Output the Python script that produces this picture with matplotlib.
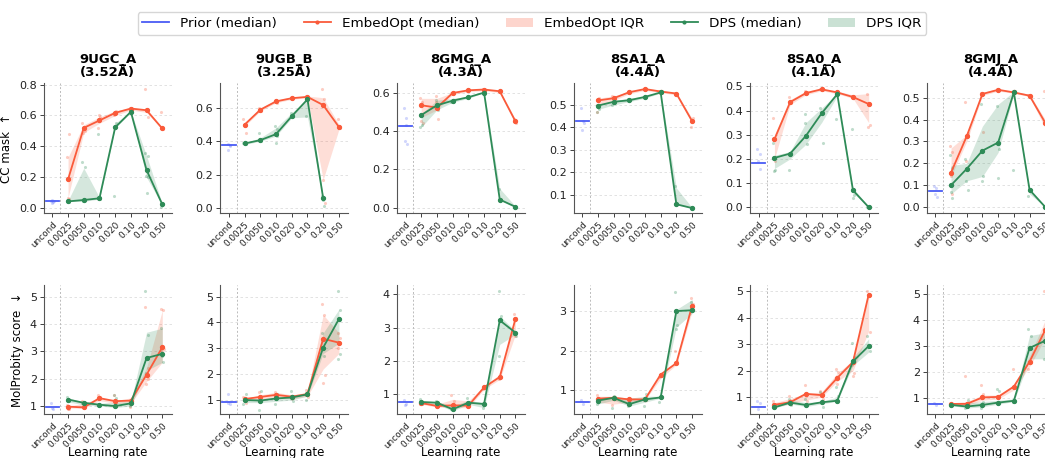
import numpy as np
import matplotlib
matplotlib.use("Agg")
import matplotlib.pyplot as plt
from matplotlib.lines import Line2D
from matplotlib.patches import Patch

PANELS = ["9UGC_A", "9UGB_B", "8GMG_A", "8SA1_A", "8SA0_A", "8GMJ_A"]
RESOLUTION = ["3.52", "3.25", "4.3", "4.4", "4.1", "4.4"]
X_LABELS = ["uncond", "0.0025", "0.0050", "0.010", "0.020", "0.10", "0.20", "0.50"]
nan = np.nan

# ---- CC mask (top row) ----
CC_PRIOR_MED = [0.045, 0.376, 0.428, 0.427, 0.183, 0.073]
CC_PRIOR_PTS = [
    [0.05, 0.04, 0.035, 0.045, 0.052],
    [0.35, 0.375, 0.38, 0.37],
    [0.52, 0.47, 0.35, 0.33, 0.43],
    [0.485, 0.43, 0.39, 0.42],
    [0.24, 0.22, 0.19, 0.16],
    [0.095, 0.085, 0.06, 0.045],
]
CC_EMB_MED = [
    [0.187, 0.52, 0.568, 0.617, 0.645, 0.634, 0.516],
    [0.499, 0.588, 0.638, 0.657, 0.665, 0.616, 0.485],
    [0.534, 0.522, 0.598, 0.612, 0.616, 0.607, 0.45],
    [0.52, 0.53, 0.557, 0.571, 0.56, 0.551, 0.428],
    [0.281, 0.435, 0.472, 0.488, 0.475, 0.456, 0.427],
    [0.158, 0.324, 0.517, 0.536, 0.524, 0.509, 0.385],
]
CC_EMB_LO = [
    [0.07, 0.49, 0.55, 0.60, 0.635, 0.62, 0.51],
    [0.49, 0.58, 0.63, 0.65, 0.66, 0.17, 0.47],
    [0.47, 0.51, 0.59, 0.605, 0.61, 0.60, 0.44],
    [0.50, 0.52, 0.55, 0.565, 0.555, 0.545, 0.42],
    [0.20, 0.425, 0.465, 0.482, 0.47, 0.45, 0.35],
    [0.14, 0.30, 0.51, 0.53, 0.52, 0.505, 0.36],
]
CC_EMB_HI = [
    [0.33, 0.54, 0.59, 0.63, 0.65, 0.64, 0.52],
    [0.51, 0.60, 0.645, 0.665, 0.67, 0.66, 0.50],
    [0.57, 0.57, 0.60, 0.615, 0.62, 0.61, 0.46],
    [0.53, 0.54, 0.56, 0.575, 0.565, 0.555, 0.44],
    [0.30, 0.445, 0.48, 0.49, 0.48, 0.465, 0.47],
    [0.27, 0.33, 0.525, 0.54, 0.528, 0.515, 0.40],
]
CC_EMB_PTS = [
    [[0.33, 0.48, 0.07, 0.06], [0.55, 0.50, 0.49], [0.52, 0.59, 0.60], [0.60, 0.63], [0.65, 0.64], [0.77, 0.59, 0.64], [0.62, 0.51]],
    [[0.53, 0.45], [0.60, 0.58], [0.64, 0.63], [0.66], [0.67], [0.71, 0.65, 0.17, 0.03], [0.53, 0.48]],
    [[0.57, 0.55, 0.45, 0.44], [0.58, 0.46, 0.55], [0.60], [0.61], [0.62], [0.61], [0.46, 0.44]],
    [[0.47, 0.53, 0.50], [0.54, 0.52], [0.56], [0.57], [0.56], [0.55], [0.40, 0.44]],
    [[0.37, 0.19, 0.28], [0.455, 0.43], [0.48], [0.49], [0.475], [0.46], [0.47, 0.34, 0.33]],
    [[0.28, 0.25, 0.14, 0.06], [0.48, 0.34, 0.21], [0.52, 0.345], [0.54], [], [0.51], [0.53, 0.355]],
]
CC_DPS_MED = [
    [0.045, 0.054, 0.065, 0.523, 0.624, 0.247, 0.026],
    [0.386, 0.406, 0.442, 0.549, 0.65, 0.059, nan],
    [0.483, 0.534, 0.558, 0.576, 0.60, 0.043, 0.005],
    [0.497, 0.514, 0.521, 0.536, 0.556, 0.057, 0.04],
    [0.204, 0.222, 0.295, 0.388, 0.468, 0.07, 0.0],
    [0.10, 0.175, 0.258, 0.295, 0.524, 0.079, 0.0],
]
CC_DPS_LO = [
    [0.045, 0.045, 0.06, 0.52, 0.62, 0.20, 0.02],
    [0.38, 0.40, 0.43, 0.54, 0.545, 0.05, nan],
    [0.42, 0.51, 0.55, 0.57, 0.60, 0.04, 0.005],
    [0.48, 0.50, 0.515, 0.53, 0.553, 0.055, 0.04],
    [0.16, 0.20, 0.26, 0.35, 0.46, 0.06, 0.0],
    [0.06, 0.12, 0.14, 0.25, 0.52, 0.06, 0.0],
]
CC_DPS_HI = [
    [0.05, 0.26, 0.07, 0.55, 0.625, 0.34, 0.03],
    [0.39, 0.42, 0.48, 0.57, 0.65, 0.07, nan],
    [0.49, 0.56, 0.57, 0.58, 0.605, 0.10, 0.008],
    [0.50, 0.52, 0.53, 0.54, 0.558, 0.13, 0.042],
    [0.215, 0.23, 0.35, 0.41, 0.47, 0.08, 0.002],
    [0.19, 0.20, 0.37, 0.47, 0.528, 0.08, 0.002],
]
CC_DPS_PTS = [
    [[0.05, 0.04], [0.30, 0.27, 0.05], [0.48, 0.06], [0.08, 0.55, 0.52], [0.62], [0.36, 0.34, 0.21, 0.20, 0.10], [0.01, 0.03, 0.02]],
    [[0.39, 0.38], [0.45, 0.40], [0.49, 0.47, 0.39, 0.43], [0.57, 0.56], [0.55], [0.07, 0.01, 0.05], []],
    [[0.42, 0.43, 0.48], [0.56, 0.51], [0.55], [0.575], [0.60], [0.10, 0.04], [0.005]],
    [[0.47, 0.48], [0.50], [0.525], [], [], [0.14, 0.06], [0.04]],
    [[0.265, 0.155, 0.15], [0.155, 0.23], [0.385, 0.26, 0.35], [0.41, 0.265], [0.365], [0.325, 0.05, 0.04], [0.0]],
    [[0.24, 0.18, 0.07, 0.04], [0.22, 0.08, 0.12], [0.47, 0.14, 0.12], [0.46, 0.265, 0.135], [0.17], [0.05, 0.08], [0.0]],
]

# ---- MolProbity score (bottom row) ----
MP_PRIOR_MED = [0.95, 0.93, 0.76, 0.70, 0.65, 0.76]
MP_PRIOR_PTS = [
    [1.1, 0.9, 0.93],
    [1.25, 0.85, 0.9],
    [0.82, 0.72, 0.68],
    [0.75, 0.66],
    [0.85, 0.8, 0.55],
    [0.8, 0.7],
]
MP_EMB_MED = [
    [0.98, 0.95, 1.29, 1.18, 1.2, 2.15, 3.15],
    [1.04, 1.12, 1.2, 1.13, 1.23, 3.37, 3.22],
    [0.74, 0.65, 0.67, 0.66, 1.21, 1.52, 3.27],
    [0.79, 0.81, 0.77, 0.77, 1.4, 1.69, 3.14],
    [0.72, 0.81, 1.13, 1.08, 1.73, 2.33, 4.87],
    [0.76, 0.76, 1.01, 1.03, 1.43, 2.39, 3.62],
]
MP_EMB_LO = [
    [0.93, 0.92, 1.2, 1.1, 1.1, 1.9, 2.6],
    [0.95, 1.05, 1.1, 1.05, 1.15, 2.2, 2.8],
    [0.70, 0.62, 0.60, 0.60, 1.15, 1.45, 2.8],
    [0.70, 0.65, 0.70, 0.75, 1.3, 1.65, 3.0],
    [0.65, 0.75, 0.9, 1.0, 1.6, 2.0, 3.5],
    [0.70, 0.70, 0.90, 0.95, 1.3, 2.2, 3.3],
]
MP_EMB_HI = [
    [1.0, 1.1, 1.3, 1.2, 1.3, 2.4, 4.5],
    [1.05, 1.2, 1.3, 1.2, 1.3, 4.3, 3.6],
    [0.80, 0.70, 0.85, 0.80, 1.25, 1.6, 3.35],
    [0.85, 0.85, 0.80, 0.80, 1.4, 1.75, 3.3],
    [0.80, 0.95, 1.15, 1.2, 1.9, 2.4, 5.0],
    [0.80, 0.85, 1.10, 1.10, 1.5, 2.6, 4.0],
]
MP_EMB_PTS = [
    [[1.05, 0.9, 0.88], [1.2, 1.0], [1.4, 1.35], [1.4, 1.1], [0.95, 1.3], [4.62, 2.4, 1.8, 2.0], [4.55, 4.5, 3.0, 3.1]],
    [[1.1, 0.9], [1.3], [1.3, 1.2], [], [1.4, 1.1], [4.7, 4.3, 1.65, 1.95], [3.6, 3.4, 3.0]],
    [[0.7], [], [0.98, 0.8], [0.65], [1.15], [1.45], [3.4, 3.3, 2.75]],
    [[0.87], [0.62], [], [], [1.35], [2.0, 1.75], [3.35, 3.2, 3.0]],
    [[0.85], [1.05, 0.75], [1.45, 0.85], [1.25, 0.95], [2.05, 1.95, 1.5], [2.2, 1.9, 1.8], [5.0, 3.45]],
    [[], [1.85], [1.5, 1.15], [1.05], [2.1], [2.1], [5.1, 3.6]],
]
MP_DPS_MED = [
    [1.24, 1.12, 1.05, 1.0, 1.1, 2.76, 2.91],
    [1.0, 0.98, 1.06, 1.1, 1.22, 3.03, 4.13],
    [0.77, 0.75, 0.55, 0.75, 0.71, 3.22, 2.85],
    [0.74, 0.81, 0.65, 0.77, 0.82, 3.01, 3.03],
    [0.62, 0.8, 0.71, 0.81, 0.87, 2.35, 2.93],
    [0.72, 0.66, 0.72, 0.81, 0.88, 2.92, 3.2],
]
MP_DPS_LO = [
    [1.15, 1.05, 1.0, 0.95, 1.0, 2.3, 2.6],
    [0.9, 0.9, 0.95, 1.0, 1.15, 2.8, 3.2],
    [0.70, 0.70, 0.50, 0.70, 0.60, 2.5, 2.8],
    [0.65, 0.75, 0.60, 0.70, 0.80, 2.6, 2.95],
    [0.60, 0.75, 0.65, 0.75, 0.85, 2.2, 2.7],
    [0.70, 0.60, 0.65, 0.75, 0.85, 2.5, 2.5],
]
MP_DPS_HI = [
    [1.3, 1.15, 1.1, 1.15, 1.15, 3.7, 3.85],
    [1.05, 1.05, 1.1, 1.15, 1.25, 3.6, 4.5],
    [0.80, 0.78, 0.65, 0.82, 0.75, 3.35, 2.9],
    [0.80, 0.85, 0.80, 0.85, 0.85, 3.05, 3.3],
    [0.70, 0.90, 0.80, 0.85, 1.0, 2.5, 3.2],
    [0.75, 0.80, 0.85, 0.90, 0.95, 3.4, 3.5],
]
MP_DPS_PTS = [
    [[1.35, 1.2], [1.1], [1.05], [1.4, 1.3], [1.0], [5.2, 3.6, 2.2], [3.85, 2.6, 2.85]],
    [[0.85, 1.25], [0.62, 1.35], [0.85, 1.25], [1.35, 0.95], [1.0], [3.6, 2.7], [5.2, 4.5, 2.6, 2.8]],
    [[0.85, 0.7], [0.8], [0.55], [0.9], [0.6], [4.1, 3.35, 2.15], [2.8, 2.75]],
    [[0.65], [0.55, 0.85], [0.6], [0.6, 0.9], [0.7], [3.5, 2.65, 2.55], [3.25]],
    [[0.75], [0.95, 0.7], [0.95], [1.2, 0.65], [1.4, 1.05], [3.05, 2.5], [3.3, 2.75]],
    [[0.75], [0.6, 0.9], [0.6, 0.85], [1.35, 1.25], [0.85], [3.65, 3.4], [2.5]],
]

C_PRIOR = "#4a5cf5"
C_EMB = "#fa5a3a"
C_DPS = "#2e8b57"
JIT = [-0.08, 0.06, -0.03, 0.09, 0.0]
YSTEP_CC = [0.2, 0.2, 0.2, 0.1, 0.1, 0.1]
YSTEP_MP = [1, 1, 1, 1, 1, 1]
YLIM_CC = [(-0.03, 0.81), (-0.03, 0.748), (-0.027, 0.65), (0.018, 0.598), (-0.024, 0.514), (-0.027, 0.567)]
YLIM_MP = [(0.71, 5.43), (0.46, 5.45), (0.41, 4.28), (0.40, 3.67), (0.37, 5.23), (0.37, 5.35)]

plt.rcParams["font.family"] = "DejaVu Sans"
fig = plt.figure(figsize=(10.45, 4.58), dpi=100)

W, H = 1045.0, 458.0
LEFTS = [43.7 + 176.6 * i for i in range(6)]
ROWS = [(83, 213), (285, 414)]
xs = np.arange(1, 8)


def draw(ax, prior_med, prior_pts, emb, dps):
    ax.axvline(0.5, color="#bbbbbb", lw=0.7, ls=(0, (2, 2)), zorder=1)
    ax.scatter([0 + JIT[k % 5] for k in range(len(prior_pts))], prior_pts,
               s=5, color=C_PRIOR, alpha=0.25, lw=0, zorder=2)
    ax.plot([-0.42, 0.42], [prior_med, prior_med], color=C_PRIOR, lw=1.3, zorder=3)
    for (med, lo, hi, pts), col in ((emb, C_EMB), (dps, C_DPS)):
        ax.fill_between(xs, lo, hi, color=col, alpha=0.2, lw=0, zorder=2)
        for i, p in enumerate(pts):
            ax.scatter([xs[i] + JIT[k % 5] for k in range(len(p))], p,
                       s=5, color=col, alpha=0.3, lw=0, zorder=2)
        ax.plot(xs, med, color=col, lw=1.3, marker="o", ms=2.8, zorder=4)
    ax.set_xlim(-0.55, 7.6)
    ax.set_xticks(range(8))
    ax.set_xticklabels(X_LABELS, rotation=45, ha="right", rotation_mode="anchor",
                       fontsize=6.4)
    ax.tick_params(axis="x", length=3, width=0.6, pad=2, colors="#222222")
    ax.tick_params(axis="y", length=3, width=0.6, pad=2, labelsize=8, colors="#222222")
    ax.grid(axis="y", color="#dddddd", lw=0.6, ls=(0, (3, 3)))
    ax.set_axisbelow(True)
    for s in ("top", "right"):
        ax.spines[s].set_visible(False)
    for s in ("left", "bottom"):
        ax.spines[s].set_color("#555555")
        ax.spines[s].set_linewidth(0.8)


for i in range(6):
    l = LEFTS[i] / W
    w = 128 / W
    # top row
    t, b = ROWS[0]
    ax = fig.add_axes([l, 1 - b / H, w, (b - t) / H])
    draw(ax, CC_PRIOR_MED[i], CC_PRIOR_PTS[i],
         (CC_EMB_MED[i], CC_EMB_LO[i], CC_EMB_HI[i], CC_EMB_PTS[i]),
         (CC_DPS_MED[i], CC_DPS_LO[i], CC_DPS_HI[i], CC_DPS_PTS[i]))
    ax.set_ylim(*YLIM_CC[i])
    ax.yaxis.set_major_locator(plt.MultipleLocator(YSTEP_CC[i]))
    ax.set_title(f"{PANELS[i]}\n({RESOLUTION[i]}Å)", fontsize=9.5, fontweight="bold",
                 linespacing=1.0, pad=5)
    if i == 0:
        ax.set_ylabel("CC mask  ↑", fontsize=8.5)
    # bottom row
    t, b = ROWS[1]
    ax = fig.add_axes([l, 1 - b / H, w, (b - t) / H])
    draw(ax, MP_PRIOR_MED[i], MP_PRIOR_PTS[i],
         (MP_EMB_MED[i], MP_EMB_LO[i], MP_EMB_HI[i], MP_EMB_PTS[i]),
         (MP_DPS_MED[i], MP_DPS_LO[i], MP_DPS_HI[i], MP_DPS_PTS[i]))
    ax.set_ylim(*YLIM_MP[i])
    ax.yaxis.set_major_locator(plt.MultipleLocator(YSTEP_MP[i]))
    ax.set_xlabel("Learning rate", fontsize=8.5, labelpad=-3)
    if i == 0:
        ax.set_ylabel("MolProbity score  ↓", fontsize=8.5)

handles = [
    Line2D([], [], color=C_PRIOR, lw=1.3),
    Line2D([], [], color=C_EMB, lw=1.3, marker="o", ms=2),
    Patch(facecolor=C_EMB, alpha=0.25, lw=0),
    Line2D([], [], color=C_DPS, lw=1.3, marker="o", ms=2),
    Patch(facecolor=C_DPS, alpha=0.25, lw=0),
]
labels = ["Prior (median)", "EmbedOpt (median)", "EmbedOpt IQR", "DPS (median)", "DPS IQR"]
fig.legend(handles, labels, loc="upper center", bbox_to_anchor=(0.509, 0.988), ncol=5,
           fontsize=9.7, frameon=True, edgecolor="#cccccc", borderpad=0.35)

fig.savefig("out.png", dpi=100)
